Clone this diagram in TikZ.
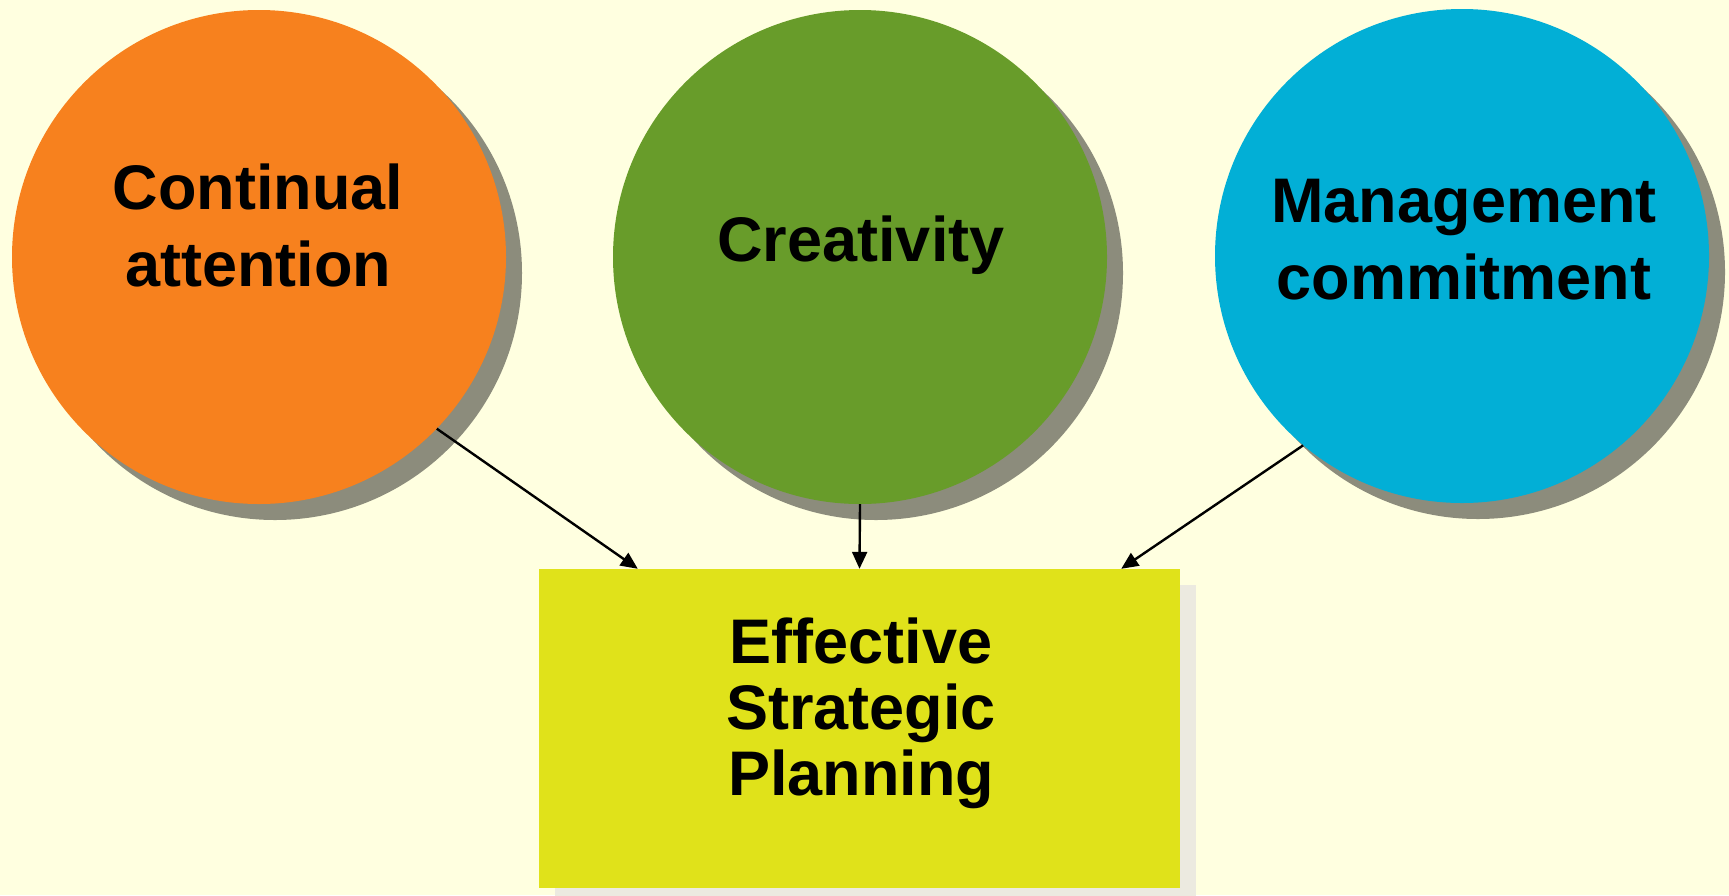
\documentclass[tikz,border=0pt]{standalone}
\usepackage{fontspec}
\setmainfont{Liberation Sans}
\usetikzlibrary{arrows.meta,shadows}
\definecolor{bgcol}{RGB}{255,255,224}
\definecolor{orangec}{RGB}{247,129,30}
\definecolor{greenc}{RGB}{104,156,42}
\definecolor{bluec}{RGB}{2,175,214}
\definecolor{shgray}{RGB}{140,140,124}
\definecolor{boxc}{RGB}{224,226,26}
\definecolor{boxsh}{RGB}{236,234,224}
\tikzset{
  bubble/.style={circle, minimum size=494pt, inner sep=0pt, draw=none,
    drop shadow={shadow xshift=16pt, shadow yshift=-16pt, opacity=1, fill=shgray}},
  goalbox/.style={rectangle, minimum width=641pt, minimum height=319pt, inner sep=0pt, fill=boxc, draw=none,
    drop shadow={shadow xshift=16pt, shadow yshift=-16pt, opacity=1, fill=boxsh}},
  lbl/.style={anchor=base, inner sep=0pt, font=\fontsize{63}{77}\selectfont\bfseries},
  conn/.style={line width=2.4pt, -{Triangle[length=17pt,width=15pt]}}
}
\begin{document}
\begin{tikzpicture}[x=1pt,y=-1pt]
\useasboundingbox (0,0) rectangle (1729,895);
\clip (0,0) rectangle (1729,895);
\fill[bgcol] (0,0) rectangle (1729,895);

\node[bubble, fill=orangec] (c1) at (259,257) {};
\node[bubble, fill=greenc] (c2) at (860,257) {};
\node[bubble, fill=bluec] (c3) at (1462,256) {};

\node[goalbox] (box) at (859.5,728.5) {};

\node[lbl] (t1) at (258,209) {\begin{tabular}[t]{@{}c@{}}Continual\\attention\end{tabular}};
\node[lbl] (t2) at (861,261) {Creativity};
\node[lbl] (t3) at (1464,222) {\begin{tabular}[t]{@{}c@{}}Management\\commitment\end{tabular}};
\node[lbl, font=\fontsize{63}{66}\selectfont\bfseries] (t4) at (861,663) {\begin{tabular}[t]{@{}c@{}}Effective\\Strategic\\Planning\end{tabular}};

\coordinate (e1) at ([xshift=99pt]box.north west);
\coordinate (e3) at ([xshift=-59pt]box.north east);

\draw[conn] (c1.-44) -- (e1);
\draw[conn] (c2.south) -- (box.north);
\draw[conn] (c3.-130) -- (e3);
\end{tikzpicture}
\end{document}
